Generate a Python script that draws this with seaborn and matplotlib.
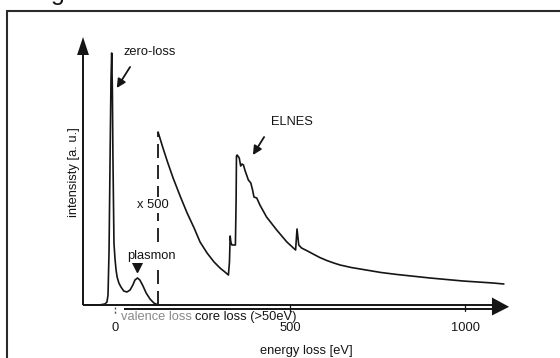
import numpy as np
import pandas as pd
import matplotlib
matplotlib.use("Agg")
import matplotlib.pyplot as plt
from matplotlib.patches import Polygon
from matplotlib.lines import Line2D
import seaborn as sns

# Low-loss region: zero-loss peak and plasmon (energy loss in eV, intensity in a.u.)
low_ev = [-90, -45, -29, -23, -20, -17, -14, -11.5, -9.5, -7.5, -6, -3, 0, 3, 6,
          11, 17, 25, 34, 43, 51, 57, 64, 71, 80, 89, 100, 111, 123]
low_int = [0, 0, 1, 3, 10, 55, 150, 225, 252, 215, 150, 62, 46, 35, 28,
           22, 18, 14, 13, 15, 20, 25, 27, 25, 19, 12, 6, 2, 0]

# Core-loss region, magnified x 500
core_ev = [123, 137, 151, 166, 186, 206, 226, 243, 263, 283, 300, 314, 324,
           327, 329, 331, 334, 344, 346, 347, 349, 355, 359, 363, 367, 371,
           381, 388, 393, 397, 405, 414, 433, 462, 491, 516, 520, 525, 533,
           550, 566, 585, 605, 625, 643, 675, 709, 760, 806, 900, 994, 1080, 1111]
core_int = [173, 157, 142, 127, 109, 92, 77, 63, 52, 43, 37, 33, 30,
            43, 69, 63, 60, 60, 105, 149, 150, 147, 139, 141, 140, 135,
            125, 122, 115, 108, 107, 100, 88, 75, 63, 55, 76, 60, 57,
            54, 51, 47.5, 44.5, 42, 40, 37.5, 35.5, 32.5, 30.5, 27, 24, 22, 21]

tick_ev = [0, 500, 1000]
tick_labels = ["0", "500", "1000"]
edge_ev = 123          # boundary between valence and core loss (dashed line)
edge_top = 173

sns.set_style("white")
plt.rcParams["font.family"] = ["Liberation Sans", "DejaVu Sans"]

ink = "#151515"
fs = 9.3

fig = plt.figure(figsize=(5.6, 3.58), dpi=100)
ax = fig.add_axes([0, 0, 1, 1])
ax.set_xlim(-328.6, 1271.4)
ax.set_ylim(-53, 305)
ax.axis("off")

low = pd.DataFrame({"ev": low_ev, "intensity": low_int})
core = pd.DataFrame({"ev": core_ev, "intensity": core_int})
sns.lineplot(data=low, x="ev", y="intensity", ax=ax, sort=False,
             estimator=None, color=ink, lw=1.2)
sns.lineplot(data=core, x="ev", y="intensity", ax=ax, sort=False,
             estimator=None, color=ink, lw=1.2)

# Scaling boundary
lw_d = 1.3
ax.plot([edge_ev, edge_ev], [0, edge_top], color=ink, lw=lw_d,
        dashes=(14 * 0.72 / lw_d, 7 * 0.72 / lw_d))

# Intensity axis with arrow
yx = -91.4
ax.plot([yx, yx], [0, 252], color=ink, lw=1.4, solid_capstyle="butt")
ax.add_patch(Polygon([(yx - 17, 250), (yx + 17, 250), (yx, 268)],
                     closed=True, color=ink, lw=0))

# Energy axis: double line with arrow
ax.plot([yx, 1080], [0, 0], color=ink, lw=1.4, solid_capstyle="butt")
ax.plot([26, 1080], [-3.8, -3.8], color=ink, lw=1.4, solid_capstyle="butt")
ax.add_patch(Polygon([(1077, 7.5), (1077, -10.5), (1126, -1.8)],
                     closed=True, color=ink, lw=0))

# Ticks
ax.plot([0, 0], [-2, -10], color="#555555", lw=1.0, ls=(0, (1.5, 1.5)))
for t in tick_ev[1:]:
    ax.plot([t, t], [1.5, -5.5], color=ink, lw=0.9)
for t, lab in zip(tick_ev, tick_labels):
    ax.text(t, -23, lab, ha="center", va="center", fontsize=fs, color=ink)

ax.text(17, -12, "valence loss", ha="left", va="center", fontsize=fs,
        color="#8a8a8a")
ax.text(229, -12, "core loss (>50eV)", ha="left", va="center", fontsize=fs,
        color=ink)
ax.text(546, -46, "energy loss [eV]", ha="center", va="center", fontsize=fs,
        color=ink)
ax.text(-117, 133, "intensisty [a. u.]", ha="center", va="center",
        rotation=90, fontsize=fs, color=ink)

# Annotations
ax.text(100, 253, "zero-loss", ha="center", va="center", fontsize=fs, color=ink)
ax.annotate("", xy=(5, 217), xytext=(43, 238),
            arrowprops=dict(arrowstyle="-|>", color=ink, lw=1.3,
                            mutation_scale=13, shrinkA=0, shrinkB=0))
ax.text(506, 183, "ELNES", ha="center", va="center", fontsize=fs, color=ink)
ax.annotate("", xy=(394, 150), xytext=(426, 168),
            arrowprops=dict(arrowstyle="-|>", color=ink, lw=1.3,
                            mutation_scale=13, shrinkA=0, shrinkB=0))
ax.text(107, 100, "x 500", ha="center", va="center", fontsize=fs, color=ink,
        bbox=dict(boxstyle="square,pad=0.15", fc="white", ec="none"))
ax.text(103, 49, "plasmon", ha="center", va="center", fontsize=fs, color=ink,
        bbox=dict(boxstyle="square,pad=0.05", fc="white", ec="none"))
ax.plot([64], [38], marker="v", markersize=7, color=ink, lw=0)

# Surrounding frame and caption fragment
fig.add_artist(Line2D([7 / 560, 1.0], [1 - 11 / 358, 1 - 11 / 358],
                      transform=fig.transFigure, color="#2a2a2a", lw=1.5))
fig.add_artist(Line2D([7 / 560, 7 / 560], [0, 1 - 11 / 358],
                      transform=fig.transFigure, color="#2a2a2a", lw=1.5))
fig.text(51 / 560, 1.0, "g", ha="left", va="baseline", fontsize=18, color=ink)

fig.savefig("out.png", dpi=100)
